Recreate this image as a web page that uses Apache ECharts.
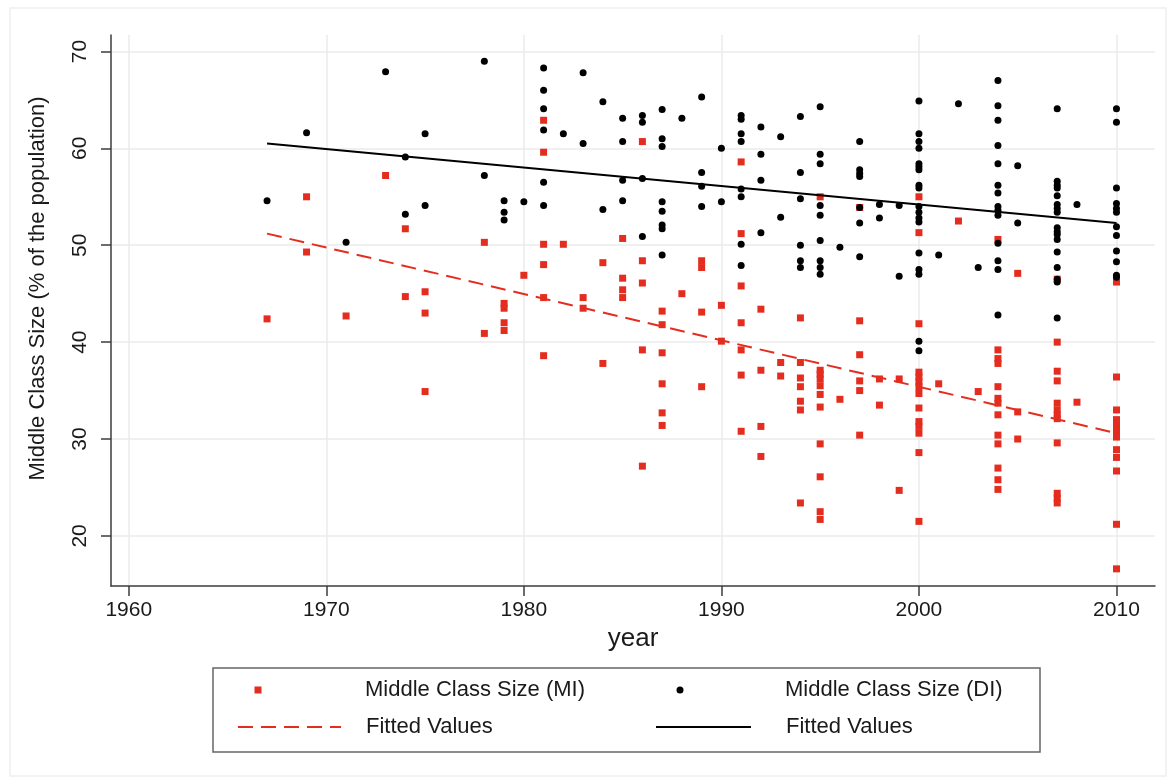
<!DOCTYPE html>
<html>
<head>
<meta charset="utf-8">
<script src="https://cdn.jsdelivr.net/npm/echarts@6/dist/echarts.min.js"></script>
<style>
html,body{margin:0;padding:0;background:#fff;}
#chart{width:1176px;height:784px;}
</style>
</head>
<body>
<div id="chart"></div>
<script>
// ---- data ----
const xTicks = [1960, 1970, 1980, 1990, 2000, 2010];
const yTicks = [20, 30, 40, 50, 60, 70];

// Middle Class Size (MI) — red squares, [year, value]
const miPoints = [
  [1967,42.4],
  [1969,55.0],[1969,49.3],
  [1971,42.7],
  [1973,57.2],
  [1974,51.7],[1974,44.7],
  [1975,45.2],[1975,43.0],[1975,34.9],
  [1978,50.3],[1978,40.9],
  [1979,44.0],[1979,43.5],[1979,42.0],[1979,41.2],
  [1980,46.9],
  [1981,62.9],[1981,59.6],[1981,50.1],[1981,48.0],[1981,44.6],[1981,38.6],
  [1982,50.1],
  [1983,44.6],[1983,43.5],
  [1984,48.2],[1984,37.8],
  [1985,50.7],[1985,46.6],[1985,45.4],[1985,44.6],
  [1986,60.7],[1986,48.4],[1986,46.1],[1986,39.2],[1986,27.2],
  [1987,43.2],[1987,41.8],[1987,38.9],[1987,35.7],[1987,32.7],[1987,31.4],
  [1988,45.0],
  [1989,48.4],[1989,47.7],[1989,43.1],[1989,35.4],
  [1990,43.8],[1990,40.1],
  [1991,58.6],[1991,51.2],[1991,45.8],[1991,42.0],[1991,39.2],[1991,36.6],[1991,30.8],
  [1992,43.4],[1992,37.1],[1992,31.3],[1992,28.2],
  [1993,37.9],[1993,36.5],
  [1994,42.5],[1994,37.9],[1994,36.3],[1994,35.4],[1994,33.9],[1994,33.0],[1994,23.4],
  [1995,55.0],[1995,37.1],[1995,36.7],[1995,36.2],[1995,35.5],[1995,34.6],[1995,33.3],[1995,29.5],[1995,26.1],[1995,22.5],[1995,21.7],
  [1996,34.1],
  [1997,53.9],[1997,42.2],[1997,38.7],[1997,36.0],[1997,35.0],[1997,30.4],
  [1998,36.2],[1998,33.5],
  [1999,36.2],[1999,24.7],
  [2000,55.0],[2000,51.3],[2000,41.9],[2000,36.9],[2000,36.4],[2000,35.9],[2000,35.4],[2000,34.7],[2000,33.2],[2000,31.8],[2000,31.3],[2000,30.6],[2000,28.6],[2000,21.5],
  [2001,35.7],
  [2002,52.5],
  [2003,34.9],
  [2004,50.6],[2004,39.2],[2004,38.3],[2004,37.8],[2004,35.4],[2004,34.2],[2004,33.7],[2004,32.5],[2004,30.4],[2004,29.5],[2004,27.0],[2004,25.8],[2004,24.8],
  [2005,47.1],[2005,32.8],[2005,30.0],
  [2007,46.5],[2007,40.0],[2007,37.0],[2007,36.0],[2007,33.7],[2007,33.0],[2007,32.5],[2007,32.1],[2007,29.6],[2007,24.4],[2007,23.9],[2007,23.4],
  [2008,33.8],
  [2010,46.2],[2010,36.4],[2010,33.0],[2010,32.0],[2010,31.3],[2010,30.7],[2010,30.2],[2010,28.9],[2010,28.1],[2010,26.7],[2010,21.2],[2010,16.6]
];

// Middle Class Size (DI) — black dots, [year, value]
const diPoints = [
  [1967,54.6],
  [1969,61.6],
  [1971,50.3],
  [1973,67.9],
  [1974,59.1],[1974,53.2],
  [1975,61.5],[1975,54.1],
  [1978,69.0],[1978,57.2],
  [1979,54.6],[1979,53.4],[1979,52.6],
  [1980,54.5],
  [1981,68.3],[1981,66.0],[1981,64.1],[1981,61.9],[1981,56.5],[1981,54.1],
  [1982,61.5],
  [1983,67.8],[1983,60.5],
  [1984,64.8],[1984,53.7],
  [1985,63.1],[1985,60.7],[1985,56.7],[1985,54.6],
  [1986,63.4],[1986,62.7],[1986,56.9],[1986,50.9],
  [1987,64.0],[1987,61.0],[1987,60.2],[1987,54.5],[1987,53.5],[1987,52.1],[1987,51.7],[1987,49.0],
  [1988,63.1],
  [1989,65.3],[1989,57.5],[1989,56.1],[1989,54.0],
  [1990,60.0],[1990,54.5],
  [1991,63.4],[1991,63.0],[1991,61.5],[1991,60.7],[1991,55.8],[1991,55.0],[1991,50.1],[1991,47.9],
  [1992,62.2],[1992,59.4],[1992,56.7],[1992,51.3],
  [1993,61.2],[1993,52.9],
  [1994,63.3],[1994,57.5],[1994,54.8],[1994,50.0],[1994,48.4],[1994,47.7],
  [1995,64.3],[1995,59.4],[1995,58.4],[1995,54.1],[1995,53.1],[1995,50.5],[1995,48.4],[1995,47.7],[1995,47.0],
  [1996,49.8],
  [1997,60.7],[1997,57.8],[1997,57.4],[1997,57.1],[1997,53.9],[1997,52.3],[1997,48.8],
  [1998,54.2],[1998,52.8],
  [1999,54.1],[1999,46.8],
  [2000,64.9],[2000,61.5],[2000,60.7],[2000,60.0],[2000,58.4],[2000,58.1],[2000,57.8],[2000,56.2],[2000,55.9],[2000,54.0],[2000,53.4],[2000,52.8],[2000,52.4],[2000,49.2],[2000,47.5],[2000,47.0],[2000,40.1],[2000,39.1],
  [2001,49.0],
  [2002,64.6],
  [2003,47.7],
  [2004,67.0],[2004,64.4],[2004,62.9],[2004,60.3],[2004,58.4],[2004,56.2],[2004,55.4],[2004,54.0],[2004,53.6],[2004,53.1],[2004,50.2],[2004,48.4],[2004,47.5],[2004,42.8],
  [2005,58.2],[2005,52.3],
  [2007,64.1],[2007,56.6],[2007,56.2],[2007,55.9],[2007,55.1],[2007,54.2],[2007,53.8],[2007,53.4],[2007,51.8],[2007,51.4],[2007,51.1],[2007,50.6],[2007,49.3],[2007,47.7],[2007,46.5],[2007,46.2],[2007,42.5],
  [2008,54.2],
  [2010,64.1],[2010,62.7],[2010,55.9],[2010,54.3],[2010,53.8],[2010,53.4],[2010,51.9],[2010,51.0],[2010,49.4],[2010,48.3],[2010,46.9],[2010,46.7]
];

// Fitted values (end points)
const miFit = [[1967, 51.2], [2010, 30.6]];
const diFit = [[1967, 60.5], [2010, 52.3]];

const seriesNames = ['Middle Class Size (MI)', 'Middle Class Size (DI)', 'Fitted Values', 'Fitted Values '];
const axisNames = { x: 'year', y: 'Middle Class Size (% of the population)' };

// ---- styling ----
const RED = '#e42d1f';
const FONT = '"Liberation Sans", Arial, Helvetica, sans-serif';
const AXIS_COLOR = '#3c3c3c';
const GRID_COLOR = '#ebebeb';

const chart = echarts.init(document.getElementById('chart'), null, { renderer: 'canvas' });

function legendBase(name, left, top, itemWidth, extra) {
  return Object.assign({
    data: [name],
    left: left, top: top,
    orient: 'horizontal',
    padding: 0,
    itemWidth: itemWidth, itemHeight: 14,
    selectedMode: false,
    textStyle: { fontFamily: FONT, fontSize: 22, color: '#1a1a1a' }
  }, extra || {});
}

const option = {
  animation: false,
  backgroundColor: '#ffffff',
  textStyle: { fontFamily: FONT },
  grid: { left: 111, right: 21, top: 35, bottom: 198, containLabel: false, outerBoundsMode: 'none' },
  xAxis: {
    type: 'value',
    min: 1959.1, max: 2011.95,
    name: axisNames.x,
    nameLocation: 'middle',
    nameGap: 38,
    nameTextStyle: { fontFamily: FONT, fontSize: 26, color: '#1a1a1a' },
    axisLine: { show: true, onZero: false, lineStyle: { color: AXIS_COLOR, width: 1.5 } },
    axisTick: { show: true, inside: false, length: 10, customValues: xTicks, lineStyle: { color: AXIS_COLOR, width: 1.5 } },
    axisLabel: { show: true, customValues: xTicks, margin: 14, fontFamily: FONT, fontSize: 21, color: '#1a1a1a',
                 formatter: function (v) { return String(Math.round(v)); } },
    splitLine: { show: true, lineStyle: { color: GRID_COLOR, width: 1.5 } }
  },
  yAxis: {
    type: 'value',
    min: 14.83, max: 71.7,
    name: axisNames.y,
    nameLocation: 'middle',
    nameGap: 62,
    nameRotate: 90,
    nameTextStyle: { fontFamily: FONT, fontSize: 22, color: '#1a1a1a', padding: [0, 0, 0, 44] },
    axisLine: { show: true, onZero: false, lineStyle: { color: AXIS_COLOR, width: 1.5 } },
    axisTick: { show: true, inside: false, length: 10, customValues: yTicks, lineStyle: { color: AXIS_COLOR, width: 1.5 } },
    axisLabel: { show: true, customValues: yTicks, rotate: 90, margin: 20, fontFamily: FONT, fontSize: 21, color: '#1a1a1a',
                 formatter: function (v) { return String(Math.round(v)); } },
    splitLine: { show: true, lineStyle: { color: GRID_COLOR, width: 1.5 } }
  },
  legend: [
    legendBase(seriesNames[0], 237, 679, 123, {
      data: [{ name: seriesNames[0], icon: 'path://M0,0M123,14M17.5,3.5h7v7h-7z', itemStyle: { color: RED } }]
    }),
    legendBase(seriesNames[1], 655, 679, 125, {
      data: [{ name: seriesNames[1], icon: 'path://M0,0M125,14M21.5,7a3.5,3.5 0 1,0 7,0a3.5,3.5 0 1,0 -7,0z', itemStyle: { color: '#000' } }]
    }),
    legendBase(seriesNames[2], 237, 716, 103, {
      itemStyle: { opacity: 0 },
      textStyle: { fontFamily: FONT, fontSize: 22, color: '#1a1a1a', padding: [0, 0, 0, 20] }
    }),
    legendBase(seriesNames[3], 655, 716, 95, {
      itemStyle: { opacity: 0 },
      textStyle: { fontFamily: FONT, fontSize: 22, color: '#1a1a1a', padding: [0, 0, 0, 30] }
    })
  ],
  graphic: [
    { type: 'rect', silent: true, z: -10,
      shape: { x: 10, y: 8, width: 1156, height: 768 },
      style: { fill: 'none', stroke: '#efefef', lineWidth: 1.5 } },
    { type: 'rect', silent: true,
      shape: { x: 213, y: 668, width: 827, height: 84 },
      style: { fill: 'none', stroke: '#666666', lineWidth: 1.5 } }
  ],
  series: [
    {
      name: seriesNames[0], type: 'scatter', data: miPoints,
      symbol: 'rect', symbolSize: 7,
      itemStyle: { color: RED, opacity: 1 }, z: 2
    },
    {
      name: seriesNames[1], type: 'scatter', data: diPoints,
      symbol: 'circle', symbolSize: 7,
      itemStyle: { color: '#000000', opacity: 1 }, z: 3
    },
    {
      name: seriesNames[2], type: 'line', data: miFit,
      symbol: 'none', showSymbol: false,
      itemStyle: { color: RED },
      lineStyle: { color: RED, width: 2, type: [15, 8] }, z: 4
    },
    {
      name: seriesNames[3], type: 'line', data: diFit,
      symbol: 'none', showSymbol: false,
      itemStyle: { color: '#000000' },
      lineStyle: { color: '#000000', width: 2, type: 'solid' }, z: 5
    }
  ]
};

chart.setOption(option);
</script>
</body>
</html>
